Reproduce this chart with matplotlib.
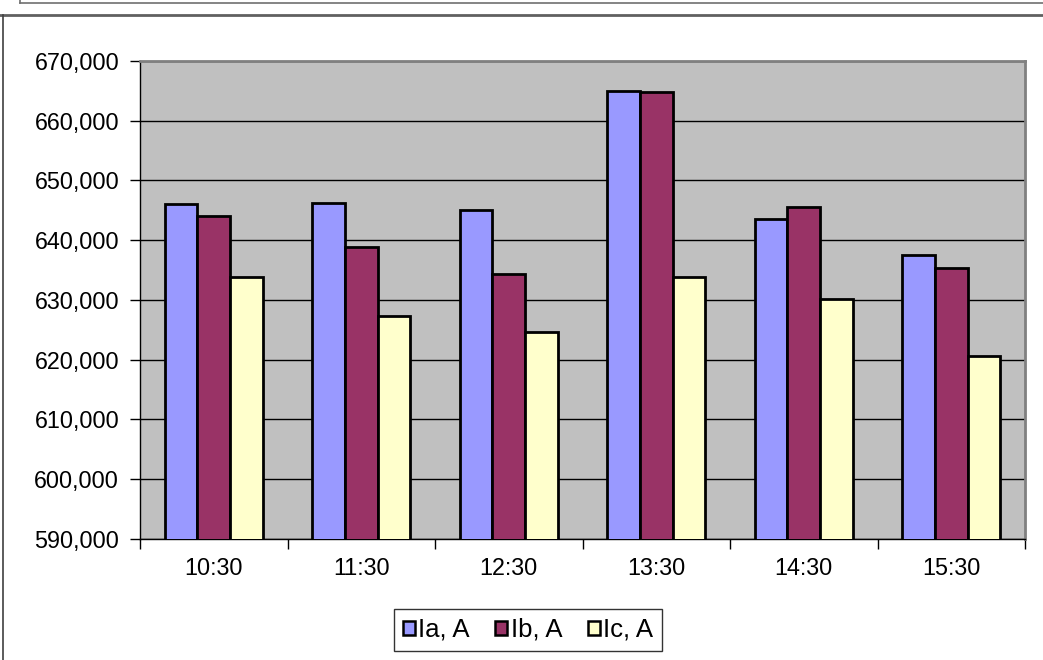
import matplotlib
matplotlib.use("Agg")
import matplotlib.pyplot as plt
import numpy as np
from matplotlib.lines import Line2D
from matplotlib.patches import Patch
from matplotlib.ticker import FuncFormatter, FixedLocator

plt.rcParams['font.family'] = ['Liberation Sans', 'DejaVu Sans']

# Hourly phase currents
times = ["10:30", "11:30", "12:30", "13:30", "14:30", "15:30"]
ia = [646.0, 646.3, 645.0, 664.9, 643.5, 637.5]
ib = [644.0, 638.9, 634.3, 664.8, 645.5, 635.3]
ic = [633.9, 627.3, 624.7, 633.8, 630.1, 620.6]
series_names = ["Ia, A", "Ib, A", "Ic, A"]
series_colors = ["#9999FF", "#993366", "#FFFFCC"]
y_min, y_max, y_step = 590.0, 670.0, 10.0

W, H = 1043, 660
fig = plt.figure(figsize=(W / 100, H / 100), dpi=100)
fig.patch.set_facecolor("white")

ax = fig.add_axes([140 / W, 1 - 539 / H, (1025 - 140) / W, (539 - 61) / H])
ax.set_facecolor("#C0C0C0")

x = np.arange(len(times))
bw = 1 / 4.5
for k, (vals, col, name) in enumerate(zip([ia, ib, ic], series_colors, series_names)):
    ax.bar(x + (k - 1) * bw, vals, width=bw, bottom=0, color=col,
           edgecolor="black", linewidth=2.0, label=name, zorder=3)

ax.set_xlim(-0.5, len(times) - 0.5)
ax.set_ylim(y_min, y_max)

yt = np.arange(y_min, y_max + 0.001, y_step)
ax.set_yticks(yt)
ax.yaxis.set_major_formatter(FuncFormatter(lambda v, p: f"{v:.3f}".replace(".", ",")))
ax.yaxis.grid(True, color="black", linewidth=1.0, zorder=1)
ax.set_axisbelow(True)

# category boundaries carry the tick marks, centers carry the labels
ax.xaxis.set_major_locator(FixedLocator(np.arange(-0.5, len(times), 1.0)))
ax.xaxis.set_major_formatter(FuncFormatter(lambda v, p: ""))
ax.xaxis.set_minor_locator(FixedLocator(x))
ax.set_xticklabels(times, minor=True)
ax.tick_params(axis="x", which="major", length=7, width=1, color="black", direction="out")
ax.tick_params(axis="x", which="minor", length=0, pad=13, labelsize=16.8)
ax.tick_params(axis="y", length=7, width=1, color="black", direction="out", pad=8, labelsize=16.8)

for side in ("top", "right"):
    ax.spines[side].set_color("#808080")
    ax.spines[side].set_linewidth(2)
for side in ("left", "bottom"):
    ax.spines[side].set_color("black")
    ax.spines[side].set_linewidth(1)

handles = [Patch(facecolor=c, edgecolor="black", linewidth=1.8) for c in series_colors]
leg = fig.legend(handles, series_names, loc="center",
                 bbox_to_anchor=((393 + 663) / 2 / W, 1 - 630 / H),
                 ncol=3, fontsize=18.5, frameon=True, fancybox=False,
                 handlelength=0.47, handleheight=0.47, handletextpad=0.12,
                 columnspacing=1.0, borderpad=0.35, borderaxespad=0)
leg.get_frame().set_edgecolor("black")
leg.get_frame().set_linewidth(1)

# outer chart frame lines
def px_line(x0, y0, x1, y1, color, lw):
    fig.add_artist(Line2D([x0 / W, x1 / W], [1 - y0 / H, 1 - y1 / H],
                          transform=fig.transFigure, color=color, linewidth=lw))

px_line(0, 14.5, W, 14.5, "#606060", 2)
px_line(3, 15, 3, H, "#404040", 1.2)
px_line(20, 3, W, 3, "#707070", 1.2)
px_line(20, 0, 20, 3, "#707070", 1.2)

fig.savefig("out.png", dpi=100)
